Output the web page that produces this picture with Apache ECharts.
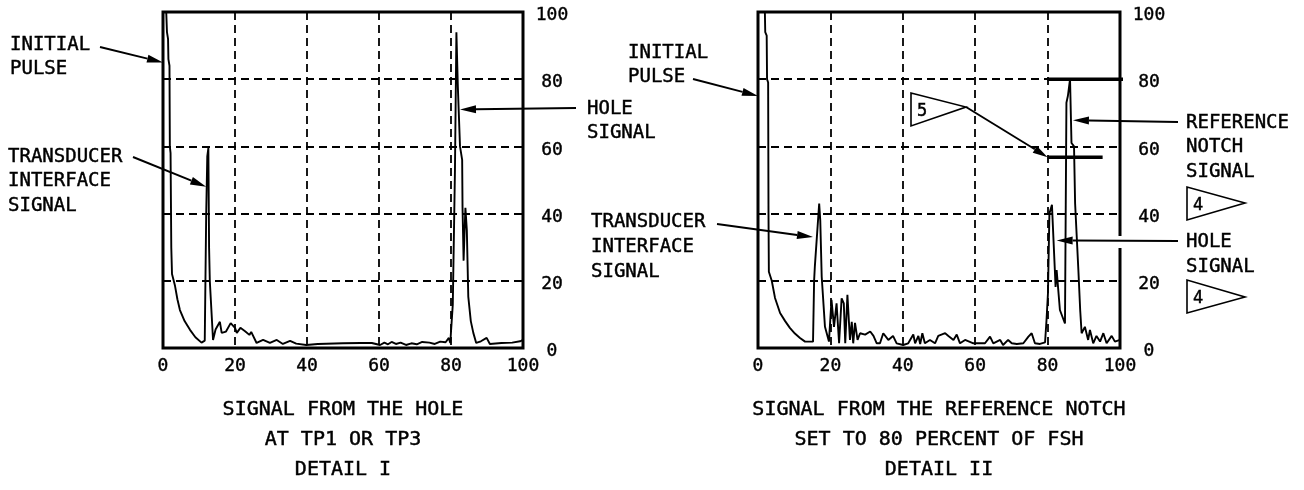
<!DOCTYPE html>
<html>
<head>
<meta charset="utf-8">
<script src="https://cdn.jsdelivr.net/npm/echarts@6/dist/echarts.min.js"></script>
<style>
  html, body { margin: 0; padding: 0; background: #fff; }
  #c { width: 1304px; height: 490px; }
</style>
</head>
<body>
<div id="c"></div>
<script>
// Screen amplitude (% of full screen height) against sweep position (% of screen width)
const sweepTicks = [0, 20, 40, 60, 80, 100];
const ampTicks = [0, 20, 40, 60, 80, 100];

// Detail I: signal from the hole at TP1 or TP3
const holeTrace = [
  [0.9, 100], [1.1, 94], [1.4, 92], [1.5, 86], [1.8, 84], [1.9, 60], [2.1, 58], [2.3, 30],
  [2.5, 22], [3.3, 18.7], [4.0, 14.5], [4.7, 11.3], [6.0, 8], [7.5, 5.4], [9.0, 3.2],
  [10.7, 1.6], [11.6, 2.2], [12.0, 40], [12.3, 57], [12.6, 59.5], [12.8, 30], [13.0, 20],
  [13.9, 2.4], [14.6, 5.5], [15.8, 7.8], [16.3, 4.5], [17.5, 4.9], [18.8, 7.4], [20.0, 6.0],
  [20.5, 4.5], [21.5, 6.0], [22.8, 5.0], [24.0, 3.9], [24.5, 4.8], [26.0, 1.5], [27.8, 2.4],
  [29.7, 1.5], [31.6, 2.4], [33.3, 1.2], [35.3, 2.1], [37.0, 1.3], [39.8, 0.9], [43, 1.2],
  [50, 1.4], [55, 1.5], [58, 1.5], [60.3, 0.9], [61.5, 1.6], [62.5, 1.1], [63.5, 1.8],
  [64.7, 1.2], [66, 1.6], [67.5, 0.9], [69, 1.4], [70.5, 1.1], [72, 1.8], [74, 1.6],
  [75.5, 1.2], [77, 1.9], [78.5, 1.7], [79.4, 3], [79.8, 1.5], [80.1, 1.5], [80.5, 13],
  [81.1, 53], [81.5, 94], [81.9, 77.8], [82.5, 60], [83.1, 56], [83.2, 42], [83.5, 26],
  [84.0, 41.7], [84.4, 35], [84.8, 15.3], [85.5, 8], [86.2, 4.5], [87.0, 1.5], [88.3, 2.0],
  [89.9, 3.0], [90.8, 1.2], [94, 1.5], [97, 1.6], [99.2, 2.0], [100, 2.4]
];

// Detail II: signal from the reference notch set to 80 percent of FSH
const notchTrace = [
  [0.7, 100], [1.9, 100], [2.0, 94], [2.4, 93], [2.5, 80], [2.8, 79], [2.9, 40], [3.0, 22.7],
  [3.8, 20], [4.7, 14.9], [6.1, 10.4], [7.5, 8], [8.8, 6], [10.2, 4.3], [11.6, 3], [13, 1.9],
  [15.2, 1.9], [15.5, 20], [15.7, 24.2], [16.3, 33.6], [16.9, 43], [17.2, 38], [17.6, 21.2],
  [18.5, 6.3], [19.6, 1.9], [20.3, 14.3], [21.0, 6.3], [21.7, 13.3], [22.4, 1.4], [23.1, 14.8],
  [23.7, 13.3], [24.1, 1.4], [24.7, 15.8], [25.4, 2.4], [25.9, 7.8], [26.3, 1.4], [26.8, 7.5],
  [27.5, 2.4], [28.2, 4.4], [29.6, 4.0], [31.0, 4.9], [31.9, 3.6], [32.8, 1.4], [33.7, 1.4],
  [34.6, 4.4], [36, 2.4], [37.3, 3.6], [38.3, 1.4], [40.1, 0.9], [41.5, 1.4], [42.9, 4.0],
  [43.4, 1.4], [44.3, 3.6], [44.8, 1.2], [45.4, 4.4], [46.1, 1.4], [47.5, 2.4], [48.9, 1.4],
  [49.8, 3.6], [51.7, 4.4], [52.6, 3.6], [54, 2.4], [54.9, 4], [55.8, 1.4], [57.2, 2.4],
  [59.5, 1.4], [61.3, 1.4], [62.7, 1.4], [64.1, 3.4], [65, 1.4], [66.9, 2.4], [67.7, 0.9],
  [69.1, 2.4], [70.1, 1.4], [71.5, 1.2], [73.3, 1.4], [74.7, 3.4], [75.6, 4.4], [76.5, 1.4],
  [77.9, 1.2], [79.3, 1.7], [79.7, 8.3], [80.1, 16.3], [80.5, 40], [81.2, 42.6], [81.6, 43],
  [82.0, 23.2], [82.2, 18.2], [82.5, 23.2], [82.9, 22.7], [83.4, 11.3], [84.8, 7.3], [85.2, 73],
  [85.6, 75], [86.2, 80], [86.6, 61], [87.3, 60], [87.6, 43], [88.5, 23.2], [89, 11.3],
  [89.4, 4.4], [90.3, 6.3], [91.2, 2.4], [91.7, 5.4], [92.6, 1.4], [93.5, 3.6], [94.5, 1.9],
  [95.4, 4.4], [96.3, 1.4], [97.7, 3.6], [98.6, 1.9], [99.1, 2.4], [100, 2.4]
];

// Gate levels drawn on Detail II: reference level (80 %) and the lower level
const refLevel = [[80, 80], [103.6, 80]];
const lowLevel = [[80, 56.8], [95.2, 56.8]];

// Callout targets in data coordinates
const pulseTargetI = [0, 85];
const transducerTargetI = [12, 48];
const holeTargetI = [82.5, 71];
const pulseTargetII = [0, 75];
const transducerTargetII = [15.2, 33];
const notchTargetII = [87, 67.8];
const holeTargetII = [82.5, 32];
const lowLevelStart = [80, 56.8];

const FONT = '"DejaVu Sans Mono", monospace';

const chart = echarts.init(document.getElementById('c'), null, { renderer: 'canvas' });

function xAxisFor(gridIndex) {
  return {
    type: 'value', gridIndex, min: 0, max: 100, interval: 20,
    axisLine: { show: false }, axisTick: { show: false },
    axisLabel: {
      color: '#000', fontFamily: FONT, fontSize: 18, margin: 9,
      textBorderColor: '#000', textBorderWidth: 0.4,
      formatter: v => sweepTicks.includes(v) ? String(v) : ''
    },
    splitLine: { show: true, lineStyle: { color: '#000', width: 1.8, type: [8, 5] } }
  };
}
function yAxisFor(gridIndex) {
  return {
    type: 'value', gridIndex, min: 0, max: 100, interval: 20, position: 'right',
    axisLine: { show: false }, axisTick: { show: false },
    axisLabel: {
      color: '#000', fontFamily: FONT, fontSize: 18, margin: 29, align: 'center',
      formatter: v => ampTicks.includes(v) ? '{v|' + v + '}' : '',
      rich: {
        v: {
          color: '#000', fontFamily: FONT, fontSize: 18, align: 'center',
          textBorderColor: '#000', textBorderWidth: 0.4,
          padding: [7, 0, 0, 0]
        }
      }
    },
    splitLine: { show: true, lineStyle: { color: '#000', width: 1.8, type: [8, 5] } }
  };
}

const traceStyle = { color: '#000', width: 1.9 };

chart.setOption({
  animation: false,
  backgroundColor: '#fff',
  grid: [
    { left: 163, top: 12, width: 360, height: 336, show: true, borderColor: '#000', borderWidth: 3, backgroundColor: 'transparent' },
    { left: 758, top: 12, width: 362, height: 336, show: true, borderColor: '#000', borderWidth: 3, backgroundColor: 'transparent' }
  ],
  xAxis: [xAxisFor(0), xAxisFor(1)],
  yAxis: [yAxisFor(0), yAxisFor(1)],
  series: [
    { type: 'line', xAxisIndex: 0, yAxisIndex: 0, data: holeTrace, showSymbol: false, lineStyle: traceStyle, z: 3 },
    { type: 'line', xAxisIndex: 1, yAxisIndex: 1, data: notchTrace, showSymbol: false, lineStyle: traceStyle, z: 3 },
    { type: 'line', xAxisIndex: 1, yAxisIndex: 1, data: refLevel, showSymbol: false, clip: false, lineStyle: { color: '#000', width: 3.5 }, z: 4 },
    { type: 'line', xAxisIndex: 1, yAxisIndex: 1, data: lowLevel, showSymbol: false, clip: false, lineStyle: { color: '#000', width: 3.5 }, z: 4 }
  ]
});

// ---- callouts, arrows and flag notes ----
const px = (g, p) => chart.convertToPixel({ gridIndex: g }, p);

function arrow(from, to, len = 16, half = 4) {
  const dx = to[0] - from[0], dy = to[1] - from[1];
  const d = Math.hypot(dx, dy), ux = dx / d, uy = dy / d;
  const bx = to[0] - ux * len, by = to[1] - uy * len;
  return [
    { type: 'line', z: 101, shape: { x1: from[0], y1: from[1], x2: bx, y2: by }, style: { stroke: '#000', lineWidth: 1.9 } },
    { type: 'polygon', z: 101, shape: { points: [[to[0], to[1]], [bx - uy * half, by + ux * half], [bx + uy * half, by - ux * half]] }, style: { fill: '#000' } }
  ];
}
function label(lines, x, y, step = 24, size = 19, align = 'left') {
  return lines.map((t, i) => ({
    type: 'text', z: 102, x, y: y + i * step,
    style: {
      text: t, font: `${size}px ${FONT}`, fill: '#000', stroke: '#000', lineWidth: 0.45,
      align, verticalAlign: 'middle', textAlign: align, textVerticalAlign: 'middle'
    }
  }));
}
function flag(x, yTop, yBot, tip, num) {
  return [
    { type: 'polygon', z: 101, shape: { points: [[x, yTop], [x, yBot], tip] }, style: { fill: '#fff', stroke: '#000', lineWidth: 1.6 } },
    ...label([num], x + 6, (yTop + yBot) / 2 + 2, 0, 17)
  ];
}

const els = [];
// Detail I
els.push(...label(['INITIAL', 'PULSE'], 10, 45));
els.push(...arrow([100, 47], px(0, pulseTargetI)));
els.push(...label(['TRANSDUCER', 'INTERFACE', 'SIGNAL'], 8, 157, 24.5));
els.push(...arrow([133, 157], px(0, transducerTargetI)));
els.push(...label(['HOLE', 'SIGNAL'], 587, 109));
els.push(...arrow([576, 108], px(0, holeTargetI)));
// Detail II
els.push(...label(['INITIAL', 'PULSE'], 628, 53));
els.push(...arrow([693, 79], px(1, pulseTargetII)));
els.push(...label(['TRANSDUCER', 'INTERFACE', 'SIGNAL'], 591, 222, 25));
els.push(...arrow([717, 224], px(1, transducerTargetII)));
els.push(...label(['REFERENCE', 'NOTCH', 'SIGNAL'], 1186, 123, 24.5));
els.push(...arrow([1178, 122], px(1, notchTargetII)));
els.push(...flag(1187, 187, 220, [1245, 203], '4'));
// break in the frame where the hole-signal leader passes
els.push({ type: 'rect', z: 100, shape: { x: 1117, y: 236, width: 6, height: 12 }, style: { fill: '#fff' } });
els.push(...label(['HOLE', 'SIGNAL'], 1186, 242, 25));
els.push(...arrow([1178, 241], px(1, holeTargetII)));
els.push(...flag(1187, 280, 313, [1245, 297], '4'));
// note 5 flag with leader to the lower level
els.push(...flag(911, 93, 126, [966, 107], '5'));
els.push(...arrow([966, 107], px(1, lowLevelStart), 15, 4));

// Captions
const cap = 20;
els.push(...label(['SIGNAL FROM THE HOLE', 'AT TP1 OR TP3', 'DETAIL I'], px(0, [50, 0])[0], 410, 30, cap, 'center'));
els.push(...label(['SIGNAL FROM THE REFERENCE NOTCH', 'SET TO 80 PERCENT OF FSH', 'DETAIL II'], px(1, [50, 0])[0], 410, 30, cap, 'center'));

chart.setOption({ graphic: { elements: els } });
</script>
</body>
</html>
